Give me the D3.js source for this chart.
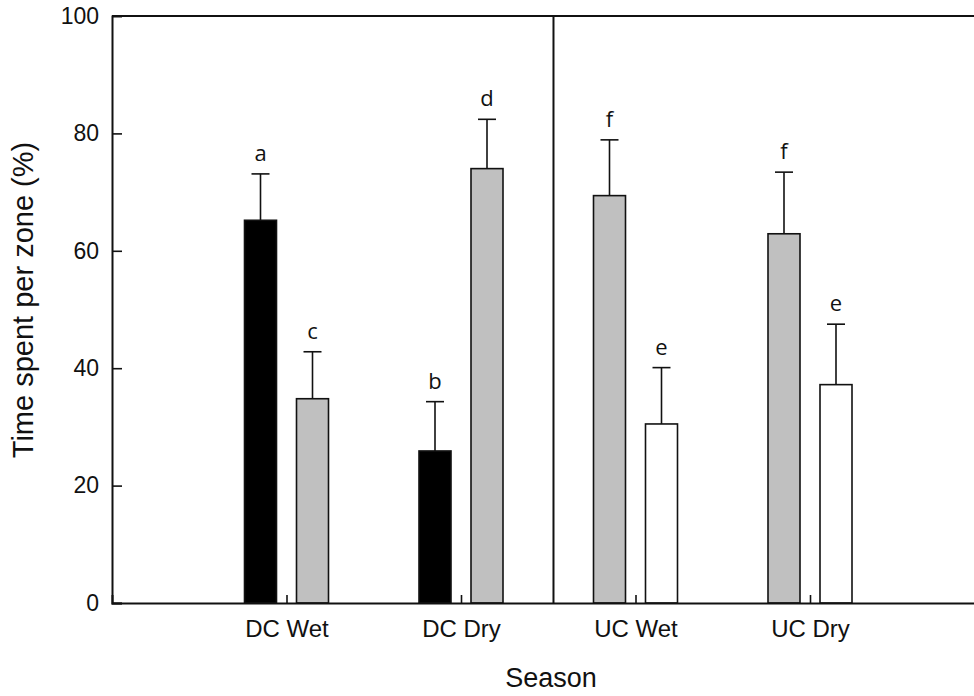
<!DOCTYPE html>
<html>
<head>
<meta charset="utf-8">
<script src="https://cdn.jsdelivr.net/npm/d3@7"></script>
<style>
  html, body { margin: 0; padding: 0; background: #fff; }
  svg { display: block; }
</style>
</head>
<body>
<svg id="chart" width="974" height="696"></svg>
<script>
// Seasons and zone groups
const seasons = ["DC Wet", "DC Dry", "UC Wet", "UC Dry"];
// Left bar of each season and its upper error
const leftZone = ["black", "black", "gray", "gray"];
const leftMean = [65.2, 25.9, 69.4, 62.9];
const leftErr  = [7.9, 8.4, 9.5, 10.5];
const leftLetter = ["a", "b", "f", "f"];
// Right bar of each season and its upper error
const rightZone = ["gray", "gray", "white", "white"];
const rightMean = [34.8, 74.0, 30.5, 37.2];
const rightErr  = [8.0, 8.4, 9.6, 10.3];
const rightLetter = ["c", "d", "e", "e"];
const yTicks = [0, 20, 40, 60, 80, 100];
const dividerAt = 2.53;

const fills = { black: "#000000", gray: "#c0c0c0", white: "#ffffff" };
const sans = "'Liberation Sans', Arial, sans-serif";

const svg = d3.select("#chart");
const plotLeft = 112, plotTop = 16, plotBottom = 603;

const x = d3.scaleLinear().domain([0, 5]).range([plotLeft, plotLeft + 5 * 174.5]);
const y = d3.scaleLinear().domain([0, 100]).range([plotBottom, plotTop]);

const barW = 32, offset = 26, capW = 18;

const bars = [];
seasons.forEach((s, i) => {
  bars.push({ pos: i + 1, dx: -offset, zone: leftZone[i], v: leftMean[i], e: leftErr[i], letter: leftLetter[i] });
  bars.push({ pos: i + 1, dx: offset, zone: rightZone[i], v: rightMean[i], e: rightErr[i], letter: rightLetter[i] });
});

// error bars (upper only)
const eb = svg.append("g").attr("stroke", "#111").attr("stroke-width", 1.6);
bars.forEach(b => {
  const cx = x(b.pos) + b.dx;
  eb.append("line").attr("x1", cx).attr("x2", cx).attr("y1", y(b.v)).attr("y2", y(b.v + b.e));
  eb.append("line").attr("x1", cx - capW / 2).attr("x2", cx + capW / 2)
    .attr("y1", y(b.v + b.e)).attr("y2", y(b.v + b.e));
});

// bars
svg.append("g").selectAll("rect").data(bars).join("rect")
  .attr("x", d => x(d.pos) + d.dx - barW / 2)
  .attr("y", d => y(d.v))
  .attr("width", barW)
  .attr("height", d => y(0) - y(d.v))
  .attr("fill", d => fills[d.zone])
  .attr("stroke", "#111")
  .attr("stroke-width", 1.6);

// significance letters
svg.append("g").selectAll("text").data(bars).join("text")
  .attr("x", d => x(d.pos) + d.dx)
  .attr("y", d => y(d.v + d.e) - 13)
  .attr("text-anchor", "middle")
  .attr("font-family", "'Open Sans', 'DejaVu Sans', sans-serif")
  .attr("font-size", 22)
  .attr("fill", "#111")
  .text(d => d.letter);

// y axis with inward ticks
const yAxis = d3.axisLeft(y).tickValues(yTicks).tickSize(-10).tickPadding(13);
const gy = svg.append("g").attr("transform", `translate(${plotLeft},0)`).call(yAxis);
gy.select(".domain").attr("stroke", "#111").attr("stroke-width", 2);
gy.selectAll(".tick line").attr("stroke", "#111").attr("stroke-width", 1.6)
  .filter(d => d === 100).remove();
gy.selectAll(".tick text").attr("font-family", sans)
  .attr("font-size", 23).attr("fill", "#111");

// x axis with inward ticks
const xAxis = d3.axisBottom(x).tickValues([1, 2, 3, 4])
  .tickFormat(d => seasons[d - 1]).tickSize(-8).tickPadding(17);
const gx = svg.append("g").attr("transform", `translate(0,${plotBottom})`).call(xAxis);
gx.select(".domain").attr("stroke", "#111").attr("stroke-width", 2);
gx.selectAll(".tick line").attr("stroke", "#111").attr("stroke-width", 1.6);
gx.selectAll(".tick text").attr("font-family", sans)
  .attr("font-size", 24).attr("fill", "#111");

// top frame line
svg.append("line").attr("x1", plotLeft).attr("x2", x(5)).attr("y1", plotTop).attr("y2", plotTop)
  .attr("stroke", "#111").attr("stroke-width", 2);

// divider between DC and UC
svg.append("line").attr("x1", x(dividerAt)).attr("x2", x(dividerAt))
  .attr("y1", plotTop).attr("y2", plotBottom)
  .attr("stroke", "#111").attr("stroke-width", 2);

// axis titles
svg.append("text").attr("x", 551).attr("y", 687).attr("text-anchor", "middle")
  .attr("font-family", sans).attr("font-size", 27)
  .attr("fill", "#111").text("Season");
svg.append("text").attr("transform", "translate(33,300) rotate(-90)")
  .attr("text-anchor", "middle")
  .attr("font-family", sans).attr("font-size", 29)
  .attr("fill", "#111").text("Time spent per zone (%)");
</script>
</body>
</html>
